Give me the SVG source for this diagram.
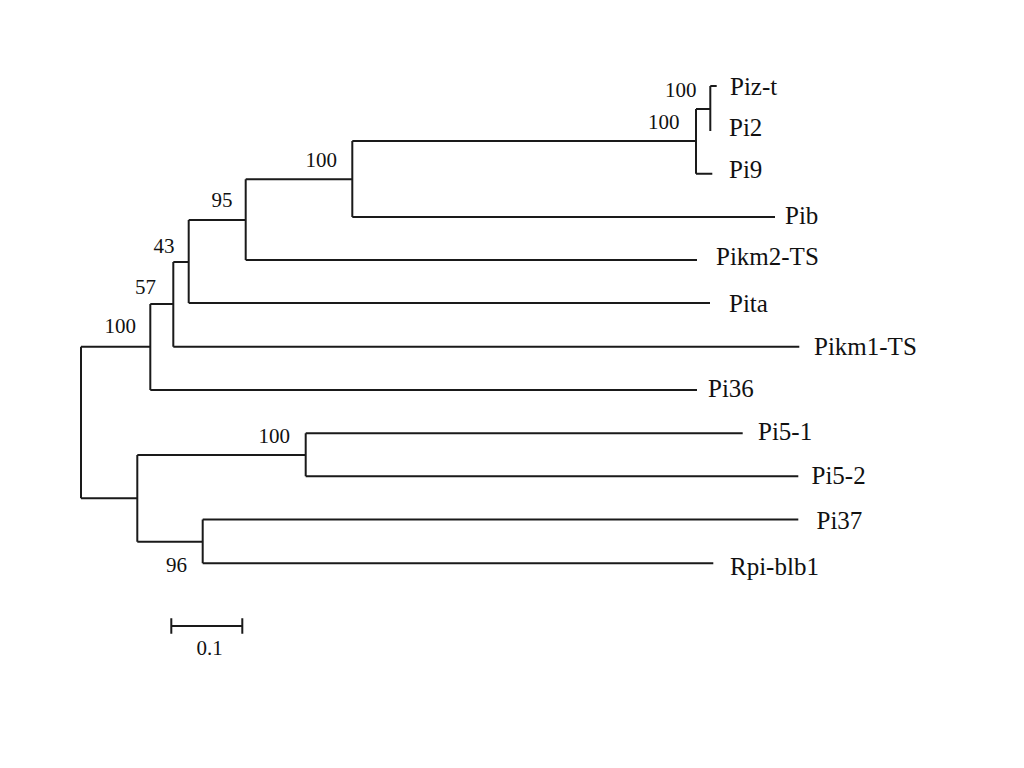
<svg xmlns="http://www.w3.org/2000/svg" width="1024" height="768" viewBox="0 0 1024 768">
<style>
.br{fill:none;stroke:#1a1a1a;stroke-width:2;stroke-linecap:butt;stroke-linejoin:miter}
.lab{font-family:"Liberation Serif","Times New Roman",serif;font-size:25px;fill:#111}
.bs{font-family:"Liberation Serif","Times New Roman",serif;font-size:21px;fill:#111}
</style>
<rect width="1024" height="768" fill="#ffffff"/>
<g id="connectors">
<path class="br" d="M81,346.7 V498.3 M81,346.7 H150.3 M81,498.3 H137.3"/>
<path class="br" d="M150.3,304 V390 M150.3,304 H173.3 M150.3,390 H697"/>
<path class="br" d="M173.3,262 V346.7 M173.3,262 H188.7 M173.3,346.7 H799.3"/>
<path class="br" d="M188.7,220 V303 M188.7,220 H245.7 M188.7,303 H710"/>
<path class="br" d="M245.7,179.3 V260 M245.7,179.3 H352.3 M245.7,260 H697"/>
<path class="br" d="M352.3,141 V217 M352.3,141 H696 M352.3,217 H775"/>
<path class="br" d="M696,109 V173.7 M696,109 H710.3 M696,173.7 H712.3"/>
<path class="br" d="M710.3,86 V131 M710.3,86 H716.7"/>
<path class="br" d="M137.3,455 V541.7 M137.3,455 H305.7 M137.3,541.7 H202.7"/>
<path class="br" d="M305.7,433.3 V476.3 M305.7,433.3 H742.7 M305.7,476.3 H798.3"/>
<path class="br" d="M202.7,519.5 V563.3 M202.7,519.5 H798.3 M202.7,563.3 H713.3"/>
</g>
<g id="leaf-Piz-t"><text class="lab" x="730" y="95">Piz-t</text></g>
<g id="leaf-Pi2"><text class="lab" x="729" y="136">Pi2</text></g>
<g id="leaf-Pi9"><text class="lab" x="729" y="178">Pi9</text></g>
<g id="leaf-Pib"><text class="lab" x="785" y="224">Pib</text></g>
<g id="leaf-Pikm2-TS"><text class="lab" x="716" y="265">Pikm2-TS</text></g>
<g id="leaf-Pita"><text class="lab" x="729" y="311.5">Pita</text></g>
<g id="leaf-Pikm1-TS"><text class="lab" x="814" y="354.5">Pikm1-TS</text></g>
<g id="leaf-Pi36"><text class="lab" x="708" y="397">Pi36</text></g>
<g id="leaf-Pi5-1"><text class="lab" x="758" y="440">Pi5-1</text></g>
<g id="leaf-Pi5-2"><text class="lab" x="811.5" y="484">Pi5-2</text></g>
<g id="leaf-Pi37"><text class="lab" x="816.5" y="529">Pi37</text></g>
<g id="leaf-Rpi-blb1"><text class="lab" x="730" y="575">Rpi-blb1</text></g>
<g id="bootstrap">
<text class="bs" x="665" y="96.7">100</text>
<text class="bs" x="648" y="129">100</text>
<text class="bs" x="305.5" y="166.7">100</text>
<text class="bs" x="211.5" y="206.7">95</text>
<text class="bs" x="153.5" y="253.3">43</text>
<text class="bs" x="135" y="294">57</text>
<text class="bs" x="104.5" y="332.7">100</text>
<text class="bs" x="258.5" y="443.3">100</text>
<text class="bs" x="166" y="572.3">96</text>
</g>
<g id="scale-bar">
<path class="br" d="M170.3,626 H243.3 M171.3,618.3 V633.7 M242.3,618.3 V633.7"/>
<text class="bs" x="196.5" y="655">0.1</text>
</g>
</svg>
